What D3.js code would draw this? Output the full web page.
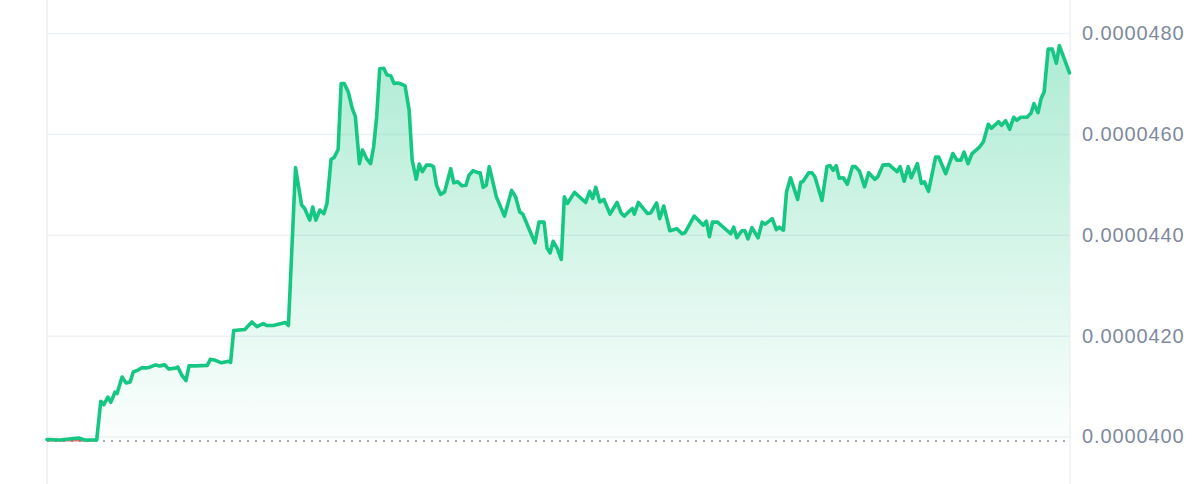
<!DOCTYPE html>
<html>
<head>
<meta charset="utf-8">
<script src="https://cdn.jsdelivr.net/npm/d3@7/dist/d3.min.js"></script>
<style>
  html, body { margin: 0; padding: 0; background: #ffffff; }
  svg { display: block; }
</style>
</head>
<body>
<svg id="chart" width="1200" height="484"></svg>
<script>
// time index: 10-minute steps over 7 days (0..1008)
const timeIndex = [0,13,31,37,49,53,56,60,63,67,69,74,78,82,85,89,93,98,102,107,111,116,120,128,129,133,137,140,146,158,161,166,172,179,181,184,195,202,207,213,217,223,235,238,245,251,254,259,262,265,269,273,276,280,283,287,290,293,297,301,304,308,311,315,319,322,325,328,332,335,339,342,346,350,353,357,360,364,367,370,374,378,381,384,388,392,398,401,405,409,413,416,420,425,427,430,433,436,443,451,458,462,466,469,481,485,490,493,496,499,503,507,510,513,520,531,535,538,541,545,549,555,562,566,569,577,579,583,592,595,601,604,608,614,621,626,629,638,643,647,650,653,656,661,674,677,680,685,688,691,695,701,705,708,715,719,722,726,729,733,740,743,745,751,754,757,764,769,772,775,778,781,785,789,794,797,801,806,810,816,819,824,830,838,841,845,849,852,858,862,865,869,876,879,886,893,897,901,904,908,912,919,923,928,931,938,941,945,949,953,956,960,966,970,973,977,980,983,987,991,995,998,1008];
// price in units of 1e-6 USD
const priceE6 = [39.94,39.93,39.97,39.93,39.93,40.70,40.63,40.78,40.68,40.88,40.85,41.18,41.06,41.08,41.28,41.31,41.36,41.36,41.38,41.42,41.40,41.42,41.34,41.36,41.38,41.21,41.11,41.40,41.40,41.41,41.53,41.51,41.46,41.49,41.47,42.10,42.12,42.27,42.18,42.24,42.20,42.20,42.26,42.20,45.33,44.59,44.52,44.29,44.55,44.29,44.49,44.42,44.62,45.49,45.53,45.69,47.00,47.00,46.83,46.50,46.34,45.41,45.68,45.51,45.41,45.74,46.34,47.29,47.30,47.17,47.15,47.00,47.01,46.98,46.95,46.47,45.48,45.10,45.40,45.25,45.38,45.38,45.35,44.98,44.80,44.85,45.31,45.03,45.05,44.97,44.98,45.18,45.27,45.23,45.23,44.94,44.98,45.35,44.75,44.37,44.88,44.75,44.45,44.41,43.84,44.25,44.25,43.73,43.64,43.87,43.73,43.51,44.75,44.62,44.84,44.64,44.86,44.72,44.94,44.65,44.70,44.41,44.64,44.43,44.37,44.52,44.41,44.64,44.42,44.43,44.63,44.32,44.57,44.08,44.12,44.02,44.04,44.37,44.27,44.19,44.27,43.96,44.25,44.25,44.02,44.15,43.94,44.08,44.08,43.92,44.14,43.94,44.25,44.21,44.32,44.10,44.15,44.09,44.85,45.13,44.70,45.04,45.05,45.23,45.23,45.15,44.68,45.36,45.37,45.28,45.37,45.12,45.13,45.00,45.35,45.35,45.26,44.95,45.23,45.10,45.15,45.38,45.39,45.25,45.35,45.06,45.35,45.13,45.41,45.02,45.05,44.86,45.54,45.54,45.21,45.61,45.48,45.48,45.64,45.41,45.61,45.73,45.84,46.19,46.11,46.24,46.17,46.26,46.09,46.33,46.27,46.33,46.33,46.41,46.60,46.42,46.70,46.83,47.68,47.68,47.40,47.75,47.21];
const UNIT = 1e-6;
const tickValues = [0.0000400, 0.0000420, 0.0000440, 0.0000460, 0.0000480];
const tickLabels = ["0.0000400", "0.0000420", "0.0000440", "0.0000460", "0.0000480"];
const startPrice = 39.95 * UNIT;

(function () {
const data = timeIndex.map((t, i) => ({ t, p: priceE6[i] * UNIT }));

const svg = d3.select("#chart");
const mLeft = 47, mRight = 1069.5, mTop = 33, mBottom = 436.5;

const x = d3.scaleLinear().domain([0, 1008]).range([mLeft, mRight]);
const y = d3.scaleLinear().domain([0.0000400, 0.0000480]).range([mBottom, mTop]);

const defs = svg.append("defs");
const grad = defs.append("linearGradient")
  .attr("id", "fillGrad").attr("gradientUnits", "userSpaceOnUse")
  .attr("x1", 0).attr("x2", 0).attr("y1", mTop).attr("y2", y(startPrice));
grad.append("stop").attr("offset", "0%").attr("stop-color", "#16c784").attr("stop-opacity", 0.36);
grad.append("stop").attr("offset", "100%").attr("stop-color", "#16c784").attr("stop-opacity", 0.015);

// vertical frame lines
svg.append("line").attr("x1", mLeft).attr("x2", mLeft).attr("y1", 0).attr("y2", 484)
  .attr("stroke", "#eff2f5").attr("stroke-width", 2);
svg.append("line").attr("x1", mRight + 0.5).attr("x2", mRight + 0.5).attr("y1", 0).attr("y2", 484)
  .attr("stroke", "#eff2f5").attr("stroke-width", 1.5);

// gridlines + labels via axis
const axis = d3.axisRight(y).tickValues(tickValues).tickFormat((d, i) => tickLabels[i])
  .tickSize(-(mRight - mLeft)).tickPadding(12);
const g = svg.append("g").attr("transform", `translate(${mRight},0)`).call(axis);
g.select(".domain").remove();
g.selectAll(".tick line").attr("stroke", "#eff2f5").attr("stroke-width", 1.5);
g.selectAll(".tick text")
  .attr("fill", "#808a9d")
  .attr("font-family", "'Liberation Sans', Arial, sans-serif")
  .attr("font-size", 20)
  .attr("letter-spacing", "0.9px")
  .attr("x", 12.5);

// green area (above baseline)
const area = d3.area().x(d => x(d.t)).y0(y(startPrice)).y1(d => y(Math.max(d.p, startPrice)));
svg.append("path").datum(data).attr("d", area).attr("fill", "url(#fillGrad)");

// dotted baseline at starting price
svg.append("line")
  .attr("x1", mLeft).attr("x2", mRight)
  .attr("y1", y(startPrice) + 2).attr("y2", y(startPrice) + 2)
  .attr("stroke", "#a1a7bb").attr("stroke-width", 2).attr("stroke-dasharray", "2,6");

// red area (below baseline)
const areaRed = d3.area().x(d => x(d.t)).y0(y(startPrice) + 2.5).y1(d => y(Math.min(d.p, startPrice)));
svg.append("path").datum(data.filter(d => d.t <= 50)).attr("d", areaRed).attr("fill", "rgba(234,57,67,0.75)");

// price line
const line = d3.line().x(d => x(d.t)).y(d => y(d.p));
svg.append("path").datum(data).attr("d", line)
  .attr("fill", "none").attr("stroke", "#16c784").attr("stroke-width", 3.6)
  .attr("stroke-linejoin", "round").attr("stroke-linecap", "round");
})();
</script>
</body>
</html>
